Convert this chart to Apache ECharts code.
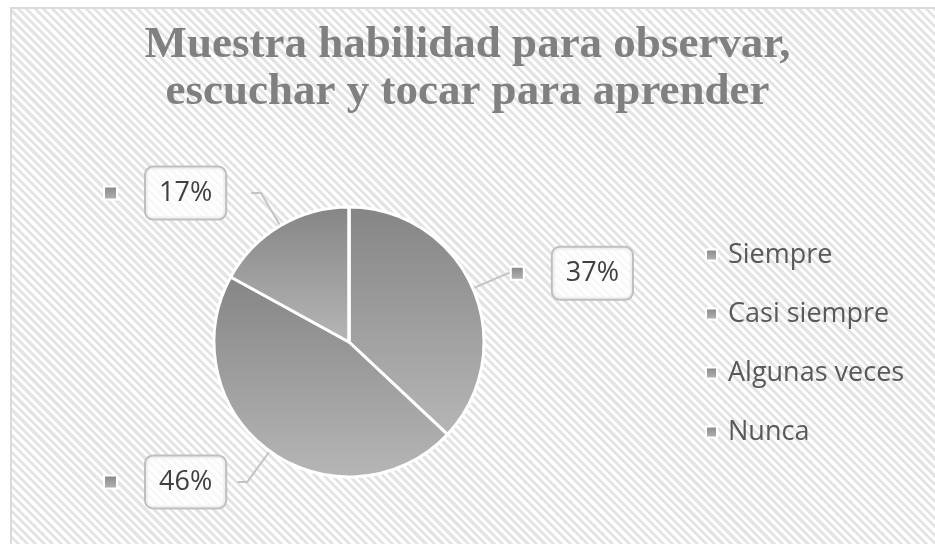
<!DOCTYPE html>
<html lang="es">
  <head>
    <meta charset="UTF-8">
    <title>Muestra habilidad para observar, escuchar y tocar para aprender</title>
    <script src="https://cdn.jsdelivr.net/npm/echarts@6/dist/echarts.min.js"></script>
    <style>
      html, body { margin: 0; padding: 0; background: #fff; }
      #bg {
        position: absolute; left: 10px; top: 7px; width: 940px; height: 560px;
        border-left: 2px solid #dadada; border-top: 2px solid #dadada;
        background: repeating-linear-gradient(45deg, #ffffff 0px, #ffffff 3px, #e4e4e4 3px, #e4e4e4 6px);
      }
      #main { position: absolute; left: 0; top: 0; width: 935px; height: 544px; }
    </style>
  </head>
  <body>
    <div id="bg"></div>
    <div id="main"></div>
    <script type="text/javascript">
      // datos del grafico
      var categorias = ['Siempre', 'Casi siempre', 'Algunas veces', 'Nunca'];
      var porcentajes = [37, 46, 17, 0];

      var gris = {
        type: 'linear', x: 0, y: 0, x2: 0, y2: 1,
        colorStops: [
          {offset: 0, color: '#858585'},
          {offset: 1, color: '#b6b6b6'}
        ]
      };

      var datos = categorias.map(function (c, i) {
        return {name: c, value: porcentajes[i]};
      });

      var myChart = echarts.init(document.getElementById('main'));

      var option = {
        backgroundColor: 'transparent',
        title: {
          text: 'Muestra habilidad para observar,\nescuchar y tocar para aprender',
          left: 'center',
          top: 17,
          textStyle: {
            fontFamily: 'Liberation Serif',
            fontWeight: 'bold',
            fontSize: 45,
            lineHeight: 47,
            color: '#808080'
          }
        },
        legend: {
          orient: 'vertical',
          left: 705,
          top: 240,
          padding: 0,
          itemWidth: 11,
          itemHeight: 11,
          itemGap: 29,
          icon: 'rect',
          data: categorias,
          textStyle: {
            fontFamily: 'Open Sans',
            fontSize: 27,
            lineHeight: 30,
            color: '#595959',
            padding: [0, 0, 0, 6]
          }
        },
        series: [{
          name: 'Habilidad',
          type: 'pie',
          // caja de la serie: las etiquetas se alinean a sus bordes
          left: 100,
          top: 0,
          width: 537,
          height: 544,
          center: [249, 342],
          radius: 135,
          startAngle: 90,
          clockwise: true,
          minShowLabelAngle: 1,
          avoidLabelOverlap: false,
          itemStyle: {
            color: gris,
            borderColor: '#ffffff',
            borderWidth: 3
          },
          label: {
            show: true,
            position: 'outside',
            alignTo: 'edge',
            edgeDistance: 5,
            distanceToLabelLine: 0,
            formatter: function (p) {
              return '{m|}{g|}{v|' + Math.round(p.percent) + '%}';
            },
            rich: {
              m: {
                width: 11, height: 11,
                backgroundColor: gris,
                borderColor: '#ffffff', borderWidth: 2
              },
              g: {width: 30},
              v: {
                fontFamily: 'Open Sans',
                fontSize: 27,
                color: '#404040',
                backgroundColor: 'rgba(255,255,255,0.75)',
                borderColor: '#bfbfbf',
                borderWidth: 2,
                borderRadius: 7,
                padding: [12, 13, 12, 13]
              }
            }
          },
          labelLine: {
            show: true,
            length: 38,
            length2: 10,
            lineStyle: {color: '#c4c4c4', width: 2}
          },
          emphasis: {disabled: true},
          data: datos
        }]
      };

      myChart.setOption(option);
    </script>
  </body>
</html>
